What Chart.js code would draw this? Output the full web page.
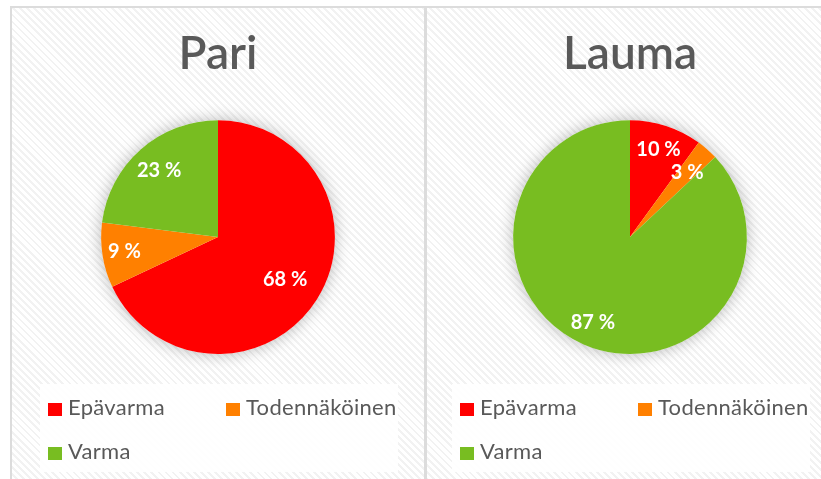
<!DOCTYPE html>
<html>
<head>
<meta charset="utf-8">
<script src="https://cdn.jsdelivr.net/npm/chart.js@4/dist/chart.umd.min.js"></script>
<style>
  html, body {
    margin: 0;
    padding: 0;
    width: 821px;
    height: 479px;
    overflow: hidden;
    background: #ffffff;
    font-family: "Lato", "Open Sans", sans-serif;
  }
  .frame {
    position: absolute;
    left: 10px;
    top: 6px;
    width: 830px;
    height: 500px;
    border-left: 2px solid #dcdcdc;
    border-top: 2px solid #dcdcdc;
    background: repeating-linear-gradient(45deg, #ffffff 0px, #ffffff 3px, #f2f2f2 3px, #f2f2f2 5px);
  }
  .divider {
    position: absolute;
    left: 424px;
    top: 8px;
    width: 3px;
    height: 480px;
    background: #dcdcdc;
  }
  .panel {
    position: absolute;
    top: 8px;
    height: 471px;
  }
  #leftPanel { left: 12px; width: 412px; }
  #rightPanel { left: 427px; width: 406px; }
  .legendBox {
    position: absolute;
    top: 384px;
    width: 358px;
    height: 88px;
    background: rgba(255, 255, 255, 0.88);
  }
  #leftLegend { left: 40px; }
  #rightLegend { left: 452px; }
  .legendItem {
    position: absolute;
    font-size: 22px;
    letter-spacing: 0.3px;
    color: #595959;
    line-height: 24px;
    white-space: nowrap;
  }
  .legendItem span.box {
    display: inline-block;
    width: 14px;
    height: 13px;
    margin-right: 6px;
    vertical-align: -1px;
  }
</style>
</head>
<body>
<div class="frame"></div>
<div class="divider"></div>
<div class="panel" id="leftPanel"><canvas id="pariChart"></canvas></div>
<div class="panel" id="rightPanel"><canvas id="laumaChart"></canvas></div>
<div class="legendBox" id="leftLegend"></div>
<div class="legendBox" id="rightLegend"></div>
<script>
const categories = ["Epävarma", "Todennäköinen", "Varma"];
const pariValues = [68, 9, 23];
const laumaValues = [10, 3, 87];
const sliceColors = ["#ff0000", "#ff8000", "#78bd21"];

// how far out (share of radius) each slice label sits
const pariLabelRadius = [0.68, 0.81, 0.76];
const laumaLabelRadius = [0.79, 0.74, 0.8];

const pieShadow = {
  id: "pieShadow",
  beforeDatasetsDraw(chart) {
    const arc = chart.getDatasetMeta(0).data[0];
    if (!arc) return;
    const ctx = chart.ctx;
    ctx.save();
    ctx.shadowColor = "rgba(0,0,0,0.28)";
    ctx.shadowBlur = 16;
    ctx.fillStyle = "#ffffff";
    ctx.beginPath();
    ctx.arc(arc.x, arc.y, arc.outerRadius, 0, Math.PI * 2);
    ctx.fill();
    ctx.restore();
  },
};

const sliceLabels = {
  id: "sliceLabels",
  afterDatasetsDraw(chart, args, opts) {
    const ctx = chart.ctx;
    const meta = chart.getDatasetMeta(0);
    const values = chart.data.datasets[0].data;
    ctx.save();
    ctx.fillStyle = "#ffffff";
    ctx.font = "bold 20px Lato, 'Open Sans', sans-serif";
    ctx.textAlign = "center";
    ctx.textBaseline = "middle";
    meta.data.forEach((arc, i) => {
      const mid = (arc.startAngle + arc.endAngle) / 2;
      const r = arc.outerRadius * opts.radius[i];
      ctx.fillText(values[i] + " %", arc.x + Math.cos(mid) * r, arc.y + Math.sin(mid) * r);
    });
    ctx.restore();
  },
};

function renderPie(canvasId, title, values, labelRadius) {
  new Chart(document.getElementById(canvasId), {
    type: "pie",
    data: {
      labels: categories,
      datasets: [
        {
          data: values,
          backgroundColor: sliceColors,
          borderWidth: 0,
        },
      ],
    },
    options: {
      responsive: true,
      maintainAspectRatio: false,
      animation: false,
      layout: { padding: { top: 0, bottom: 125 } },
      plugins: {
        legend: { display: false },
        tooltip: { enabled: false },
        title: {
          display: true,
          text: title,
          color: "#595959",
          font: { family: "Lato", size: 46, weight: "600", lineHeight: 1.2 },
          padding: { top: 19, bottom: 38 },
        },
        sliceLabels: { radius: labelRadius },
      },
    },
    plugins: [pieShadow, sliceLabels],
  });
}

function renderLegend(boxId) {
  const box = document.getElementById(boxId);
  const spots = [
    [8, 11],
    [186, 11],
    [8, 55],
  ];
  categories.forEach((name, i) => {
    const item = document.createElement("div");
    item.className = "legendItem";
    item.style.left = spots[i][0] + "px";
    item.style.top = spots[i][1] + "px";
    item.innerHTML = '<span class="box" style="background:' + sliceColors[i] + '"></span>' + name;
    box.appendChild(item);
  });
}

renderPie("pariChart", "Pari", pariValues, pariLabelRadius);
renderPie("laumaChart", "Lauma", laumaValues, laumaLabelRadius);
renderLegend("leftLegend");
renderLegend("rightLegend");
</script>
</body>
</html>
